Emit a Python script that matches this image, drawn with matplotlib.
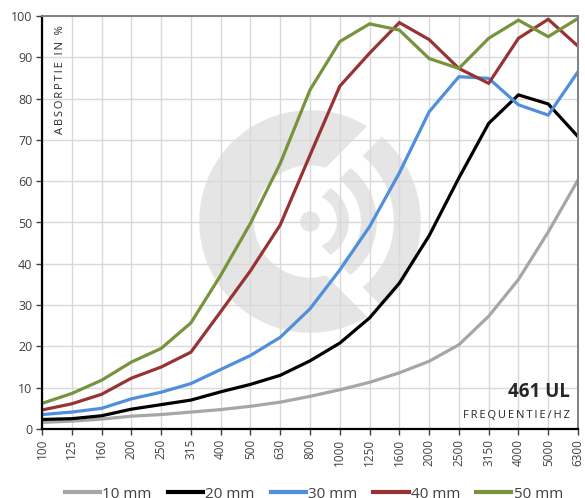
import numpy as np
import matplotlib
matplotlib.use("Agg")
import matplotlib.pyplot as plt

plt.rcParams['font.family'] = ['Open Sans', 'DejaVu Sans']

freqs = ["100", "125", "160", "200", "250", "315", "400", "500", "630", "800",
         "1000", "1250", "1600", "2000", "2500", "3150", "4000", "5000", "6300"]
mm10 = [1.6, 1.9, 2.4, 3.1, 3.5, 4.1, 4.7, 5.5, 6.5, 7.9, 9.5, 11.3, 13.6, 16.4, 20.4, 27.3, 36.2, 47.7, 60.3]
mm20 = [2.3, 2.5, 3.2, 4.8, 5.9, 7.0, 9.0, 10.8, 13.0, 16.5, 20.8, 26.9, 35.3, 46.8, 60.8, 74.0, 80.9, 78.7, 70.8]
mm30 = [3.5, 4.1, 5.0, 7.3, 8.9, 11.0, 14.4, 17.8, 22.2, 29.1, 38.5, 49.0, 62.0, 76.8, 85.3, 84.9, 78.5, 76.0, 86.5]
mm40 = [4.6, 6.1, 8.4, 12.3, 15.0, 18.6, 28.4, 38.3, 49.4, 66.3, 83.0, 91.0, 98.4, 94.3, 87.3, 83.7, 94.6, 99.2, 92.7]
mm50 = [6.2, 8.6, 11.8, 16.2, 19.5, 25.7, 37.2, 49.8, 64.3, 82.1, 93.8, 98.1, 96.6, 89.7, 87.3, 94.6, 99.0, 95.0, 99.4]
series = [("10 mm", mm10, "#a6a6a6"), ("20 mm", mm20, "#000000"),
          ("30 mm", mm30, "#4f8fdb"), ("40 mm", mm40, "#993333"),
          ("50 mm", mm50, "#77933c")]
yticks = list(range(0, 101, 10))


def spaced(s):
    return "\u2009".join(s)


W, H = 585, 498
fig = plt.figure(figsize=(W / 100, H / 100), dpi=100)
L, R, T, B = 42, 578, 16, 429
ax = fig.add_axes([L / W, (H - B) / H, (R - L) / W, (B - T) / H])
x = np.arange(len(freqs))
ax.set_xlim(0, len(freqs) - 1)
ax.set_ylim(0, 100)

# watermark logo (drawn in pixel units, centred on category 9 / 50 %)
sx = (R - L) / (len(freqs) - 1)
sy = (B - T) / 100.0
half = 116
n = 464
g = np.linspace(-half, half, n)
gx, gy = np.meshgrid(g, g[::-1])
rr = np.hypot(gx, gy)
wedge = np.abs(gy) < gx + 13
mask = (rr <= 10)
mask |= (rr >= 27) & (rr <= 39) & wedge
mask |= (rr >= 51) & (rr <= 67) & wedge
mask |= (rr >= 84) & (rr <= 111) & wedge
mask |= (rr >= 56) & (rr <= 111) & (np.abs(gy) > gx + 38)
img = np.zeros((n, n, 4))
img[..., :3] = 0.9
img[..., 3] = mask.astype(float)
cx, cy = 9, 50
ax.imshow(img, extent=[cx - half / sx, cx + half / sx, cy - half / sy, cy + half / sy],
          aspect='auto', zorder=0.5, interpolation='antialiased')

ax.set_xticks(x)
ax.set_xticklabels(freqs, rotation=90, fontsize=8.5, color="#404040")
ax.set_yticks(yticks)
ax.set_yticklabels([str(v) for v in yticks], fontsize=9, color="#404040")
ax.grid(True, color="#d9d9d9", linewidth=1.0, zorder=1)
ax.set_axisbelow(False)
ax.tick_params(axis='both', length=4, width=1, color="#404040", pad=3)

for lab, vals, col in series:
    ax.plot(x, vals, color=col, linewidth=2.3, label=lab, zorder=3, solid_joinstyle='miter')

for s in ['left', 'bottom']:
    ax.spines[s].set_color('black')
    ax.spines[s].set_linewidth(1.6)
for s in ['top', 'right']:
    ax.spines[s].set_color('#808080')
    ax.spines[s].set_linewidth(1.4)
for s in ax.spines.values():
    s.set_zorder(4)

ax.text(0.024, 0.978, spaced("ABSORPTIE") + "\u2009 \u2009" + spaced("IN") + "\u2009 \u2009%",
        transform=ax.transAxes, rotation=90, ha='left', va='top', fontsize=8, color="#262626")
ax.text(0.985, 0.077, "461 UL", transform=ax.transAxes, ha='right', va='baseline',
        fontsize=13.5, fontweight='bold', color="#262626")
ax.text(0.985, 0.027, spaced("FREQUENTIE/HZ"), transform=ax.transAxes, ha='right', va='baseline',
        fontsize=8, color="#262626")

leg = fig.legend(loc='center', bbox_to_anchor=(314 / W, 1 - 494 / H), ncol=5, frameon=False,
                 fontsize=11, handlelength=2.3, handletextpad=0.15, columnspacing=1.05,
                 labelcolor="#404040")
for h in leg.legend_handles:
    h.set_linewidth(3)

fig.savefig("out.png", dpi=100)
